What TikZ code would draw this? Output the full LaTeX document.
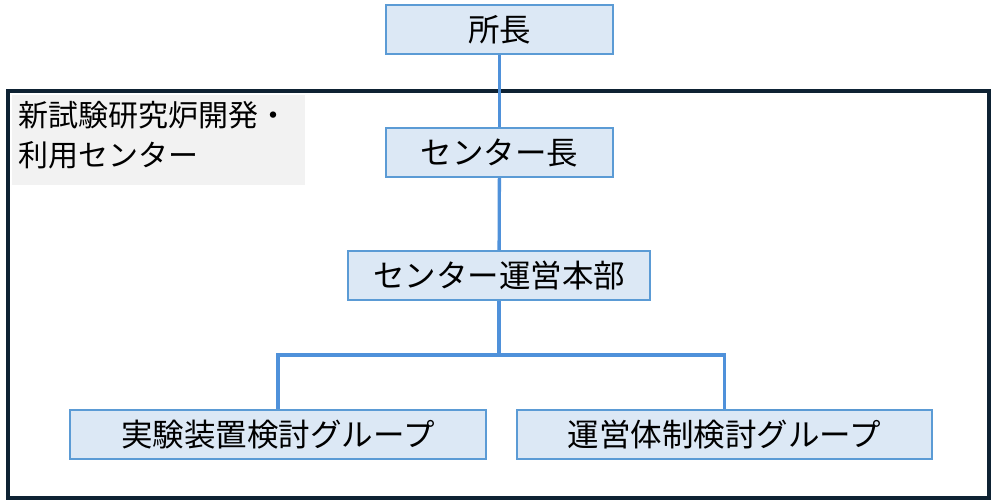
\documentclass[tikz,border=0pt]{standalone}
\usepackage{fontspec}
\setmainfont{Noto Sans CJK JP}
\begin{document}
\begin{tikzpicture}[x=1pt,y=-1pt,
  orgbox/.style={draw=boxline,fill=boxfill,line width=1.3pt,inner sep=0pt,font=\fontsize{31.5}{34}\selectfont,text=black},
  link/.style={draw=linkblue,line width=3.3pt}]
\definecolor{boxline}{HTML}{5B9BD5}
\definecolor{boxfill}{HTML}{DCE8F5}
\definecolor{linkblue}{HTML}{4F91DA}
\definecolor{framecol}{HTML}{0E2233}
\definecolor{labelfill}{HTML}{F2F2F2}
\useasboundingbox (0,0) rectangle (992,501);
% frame
\draw[framecol,line width=3.2pt] (8,91) rectangle (989,498);
\fill[labelfill] (12,95) rectangle (305,185);
\node[anchor=north west,align=left,inner sep=0pt,font=\fontsize{30}{40}\selectfont] (label) at (18,101) {新試験研究炉開発・\\利用センター};
% boxes
\node[orgbox,minimum width=227pt,minimum height=49pt] (chief) at (499.5,29.5) {所長};
\node[orgbox,minimum width=227pt,minimum height=49pt] (head) at (499.5,152.5) {センター長};
\node[orgbox,minimum width=302pt,minimum height=49pt] (ops) at (499,275.5) {センター運営本部};
\node[orgbox,minimum width=416pt,minimum height=49pt] (exp) at (278,434.5) {実験装置検討グループ};
\node[orgbox,minimum width=415pt,minimum height=49pt] (sys) at (724.5,434.5) {運営体制検討グループ};
\coordinate (branch) at (499,355);
% links
\draw[link] (chief) -- (head);
\draw[link] (head) -- (ops);
\draw[link] (ops.south) -- (branch);
\draw[link] (branch) -| (exp.north);
\draw[link] (branch) -| (sys.north);
% redraw boxes on top
\node[orgbox,minimum width=227pt,minimum height=49pt] at (499.5,29.5) {所長};
\node[orgbox,minimum width=227pt,minimum height=49pt] at (499.5,152.5) {センター長};
\node[orgbox,minimum width=302pt,minimum height=49pt] at (499,275.5) {センター運営本部};
\node[orgbox,minimum width=416pt,minimum height=49pt] at (278,434.5) {実験装置検討グループ};
\node[orgbox,minimum width=415pt,minimum height=49pt] at (724.5,434.5) {運営体制検討グループ};
\end{tikzpicture}
\end{document}
